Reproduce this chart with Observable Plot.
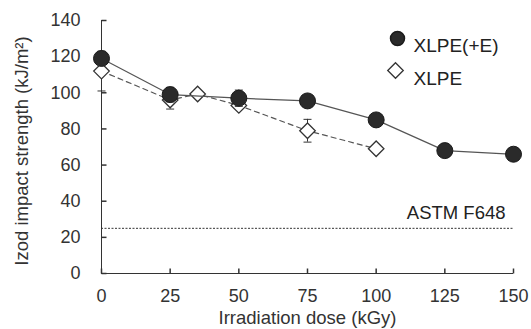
<!DOCTYPE html>
<html>
<head>
<meta charset="utf-8">
<script src="https://cdn.jsdelivr.net/npm/d3@7"></script>
<script src="https://cdn.jsdelivr.net/npm/@observablehq/plot@0.6"></script>
<style>
  body { margin: 0; background: #fff; }
  #chart svg { display: block; }
</style>
</head>
<body>
<div id="chart"></div>
<script>
// Data
const doseE = [0, 25, 50, 75, 100, 125, 150];
const valueE = [119, 99, 97, 95.5, 85, 68, 66];
const errE = [3, 4, 4.5, 1.5, 1.5, 1, 1];

const doseX = [0, 25, 35, 50, 75, 100];
const valueX = [112, 96, 99.3, 93, 79, 69];
const errX = [11, 5, 1.5, 1.5, 6.3, 0];

const seriesNames = ["XLPE(+E)", "XLPE"];
const astmValue = 25;
const astmLabel = "ASTM F648";
const xTicks = [0, 25, 50, 75, 100, 125, 150];
const yTicks = [0, 20, 40, 60, 80, 100, 120, 140];

const dataE = doseE.map((d, i) => ({dose: d, v: valueE[i], e: errE[i]}));
const dataX = doseX.map((d, i) => ({dose: d, v: valueX[i], e: errX[i]}));

const ink = "#333";
const capSymbol = {draw(ctx, size) { ctx.moveTo(-4, 0); ctx.lineTo(4, 0); }};
const yTickSymbol = {draw(ctx, size) { ctx.moveTo(0, 0); ctx.lineTo(5, 0); }};
const xTickSymbol = {draw(ctx, size) { ctx.moveTo(0, 0); ctx.lineTo(0, -5); }};

const errMarks = (data) => [
  Plot.ruleX(data.filter(d => d.e > 0), {x: "dose", y1: d => d.v - d.e, y2: d => d.v + d.e, stroke: ink, strokeWidth: 1}),
  Plot.dot(data.filter(d => d.e > 0), {x: "dose", y: d => d.v - d.e, symbol: capSymbol, stroke: ink, strokeWidth: 1, fill: "none"}),
  Plot.dot(data.filter(d => d.e > 0), {x: "dose", y: d => d.v + d.e, symbol: capSymbol, stroke: ink, strokeWidth: 1, fill: "none"})
];

const chart = Plot.plot({
  width: 531,
  height: 329,
  marginLeft: 101,
  marginRight: 18,
  marginTop: 20,
  marginBottom: 56,
  style: {fontFamily: "'Liberation Sans', Arial, sans-serif", fontSize: "18px", color: ink, background: "#fff"},
  x: {domain: [0, 150]},
  y: {domain: [0, 140]},
  marks: [
    Plot.axisY(yTicks, {tickSize: 0, tickPadding: 21, label: null, fontSize: 18, fill: "#333"}),
    Plot.axisX(xTicks, {tickSize: 0, tickPadding: 16, label: null, fontSize: 18, fill: "#333"}),
    Plot.text(["Izod impact strength (kJ/m²)"], {frameAnchor: "left", dx: -79, dy: 4, rotate: -90, textAnchor: "middle", text: d => d, fontSize: 18.5, fill: "#333"}),
    Plot.text(["Irradiation dose (kGy)"], {frameAnchor: "bottom", dy: 37, text: d => d, textAnchor: "middle", fontSize: 18.5, fill: "#333", lineAnchor: "top"}),
    Plot.ruleX([0], {y1: 0, y2: 140, stroke: ink, strokeWidth: 1}),
    Plot.ruleY([0], {x1: 0, x2: 150, stroke: ink, strokeWidth: 1}),
    Plot.dot(yTicks, {x: 0, y: d => d, symbol: yTickSymbol, stroke: ink, fill: "none"}),
    Plot.dot(xTicks, {x: d => d, y: 0, symbol: xTickSymbol, stroke: ink, fill: "none"}),
    Plot.ruleY([astmValue], {x1: 0, x2: 150, stroke: ink, strokeWidth: 1, strokeDasharray: "2,1.5"}),
    Plot.text([astmLabel], {x: 150, y: astmValue, text: d => d, textAnchor: "end", dx: -8, dy: -15, fontSize: 18.5, fill: "#222"}),
    // XLPE dashed
    Plot.line(dataX, {x: "dose", y: "v", stroke: "#555", strokeWidth: 1.2, strokeDasharray: "5,4"}),
    ...errMarks(dataX),
    Plot.dot(dataX, {x: "dose", y: "v", symbol: "diamond2", r: 7, fill: "white", stroke: "#333", strokeWidth: 1.3}),
    // XLPE(+E) solid
    Plot.line(dataE, {x: "dose", y: "v", stroke: "#555", strokeWidth: 1.2}),
    ...errMarks(dataE),
    Plot.dot(dataE, {x: "dose", y: "v", r: 8, fill: "#2a2a2a", stroke: "#1a1a1a", strokeWidth: 1}),
    // Legend
    Plot.dot([seriesNames[0]], {frameAnchor: "top-right", dx: -116, dy: 18, r: 7, fill: "#2a2a2a", stroke: "#1a1a1a"}),
    Plot.text([seriesNames[0]], {frameAnchor: "top-right", dx: -100, dy: 18, text: d => d, textAnchor: "start", fontSize: 19, fill: "#222"}),
    Plot.dot([seriesNames[1]], {frameAnchor: "top-right", dx: -118, dy: 50, r: 7, symbol: "diamond2", fill: "white", stroke: "#333", strokeWidth: 1.3}),
    Plot.text([seriesNames[1]], {frameAnchor: "top-right", dx: -100, dy: 51, text: d => d, textAnchor: "start", fontSize: 19, fill: "#222"})
  ]
});
document.getElementById("chart").appendChild(chart);
</script>
</body>
</html>
